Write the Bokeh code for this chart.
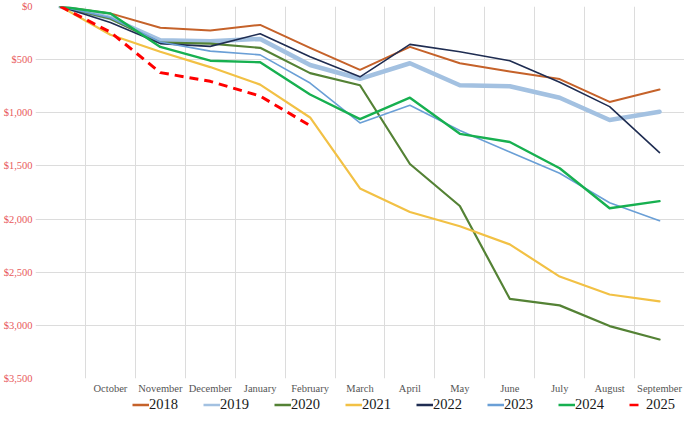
from bokeh.plotting import figure
from bokeh.layouts import column
from bokeh.models import Range1d, FixedTicker, CustomJSTickFormatter, Legend, LegendItem
from bokeh.embed import file_html
from bokeh.resources import INLINE

months = ["", "October", "November", "December", "January", "February", "March",
          "April", "May", "June", "July", "August", "September"]

y2018 = [0, -65, -200, -226, -173, -389, -596, -380, -534, -611, -683, -898, -781]
y2019 = [0, -108, -318, -327, -305, -550, -680, -534, -741, -750, -858, -1068, -991]
y2020 = [0, -115, -340, -349, -389, -627, -741, -1482, -1877, -2750, -2812, -3007, -3133]
y2021 = [0, -266, -426, -570, -735, -1044, -1712, -1933, -2068, -2238, -2541, -2710, -2775]
y2022 = [0, -150, -349, -375, -256, -472, -662, -356, -426, -510, -713, -942, -1374]
y2023 = [0, -105, -334, -420, -455, -720, -1095, -929, -1167, -1368, -1569, -1846, -2016]
y2024 = [0, -66, -380, -510, -525, -828, -1059, -858, -1198, -1275, -1522, -1898, -1831]
y2025 = [0, -241, -622, -704, -843, -1121]

series = [
    ("2018", y2018, "#c5622a", 2.0, "solid"),
    ("2019", y2019, "#a3c1e1", 4.5, "solid"),
    ("2020", y2020, "#548235", 2.2, "solid"),
    ("2021", y2021, "#f2c145", 2.2, "solid"),
    ("2022", y2022, "#1f2d52", 1.6, "solid"),
    ("2023", y2023, "#6a9fd6", 1.6, "solid"),
    ("2024", y2024, "#17b050", 2.4, "solid"),
    ("2025", y2025, "#ff0000", 3.0, "9 6"),
]

FONT = "Liberation Serif"

p = figure(width=684, height=396, output_backend="svg", toolbar_location=None,
           x_range=Range1d(-0.5, len(months) - 0.5), y_range=Range1d(-3500, 0),
           min_border_left=10, min_border_right=0, min_border_top=6, min_border_bottom=0)
p.outline_line_color = None
p.background_fill_color = "white"
p.border_fill_color = "white"

for name, ys, color, w, dash in series:
    xs = list(range(len(ys)))
    p.line(xs, ys, line_color=color, line_width=w, line_dash=dash,
           line_join="round", line_cap="butt" if dash != "solid" else "round")

# x axis
p.xaxis.ticker = FixedTicker(ticks=list(range(1, len(months))))
p.xaxis.major_label_overrides = {i: m for i, m in enumerate(months) if i > 0}
p.xaxis.axis_line_color = None
p.xaxis.major_tick_line_color = None
p.xaxis.minor_tick_line_color = None
p.xaxis.major_tick_out = 0
p.xaxis.major_label_text_font = FONT
p.xaxis.major_label_text_font_size = "10.5px"
p.xaxis.major_label_text_color = "#555555"
p.xaxis.major_label_standoff = 4

p.xgrid.ticker = FixedTicker(ticks=[k - 0.5 for k in range(len(months) + 1)])
p.xgrid.grid_line_color = "#dcdcdc"

# y axis (negative values shown in red)
yticks = list(range(-3500, 1, 500))
p.yaxis.ticker = FixedTicker(ticks=yticks)
p.yaxis.formatter = CustomJSTickFormatter(code="""
return '$' + Math.abs(tick).toLocaleString('en-US');
""")
p.yaxis.axis_line_color = None
p.yaxis.major_tick_line_color = None
p.yaxis.minor_tick_line_color = None
p.yaxis.major_tick_out = 0
p.yaxis.major_label_text_font = FONT
p.yaxis.major_label_text_font_size = "10.5px"
p.yaxis.major_label_text_color = "#e8585a"
p.yaxis.major_label_standoff = 3

p.ygrid.ticker = FixedTicker(ticks=yticks)
p.ygrid.grid_line_color = "#dcdcdc"

# legend strip: same series drawn outside its visible range, only the legend shows
lg = figure(width=684, height=16, output_backend="svg", toolbar_location=None,
            x_range=Range1d(0, 1), y_range=Range1d(10000, 20000),
            x_axis_location=None, y_axis_location=None,
            min_border_left=0, min_border_right=0, min_border_top=0, min_border_bottom=0)
lg.outline_line_color = None
lg.xgrid.visible = False
lg.ygrid.visible = False
items = []
for name, ys, color, w, dash in series:
    xs = list(range(len(ys)))
    r = lg.line(xs, ys, line_color=color, line_width=2.6,
                line_dash="9 8" if dash != "solid" else "solid")
    items.append(LegendItem(label=name, renderers=[r]))

legend = Legend(items=items, orientation="horizontal", location="center_right",
                glyph_width=17, glyph_height=14, label_standoff=0, spacing=25,
                padding=0, margin=9, border_line_color=None,
                background_fill_alpha=0, label_text_font=FONT,
                label_text_font_size="14.5px", label_text_color="#1a1a1a",
                label_height=14)
lg.add_layout(legend, "center")

layout = column(p, lg, spacing=0)
open("out.html", "w").write(file_html(layout, INLINE))
